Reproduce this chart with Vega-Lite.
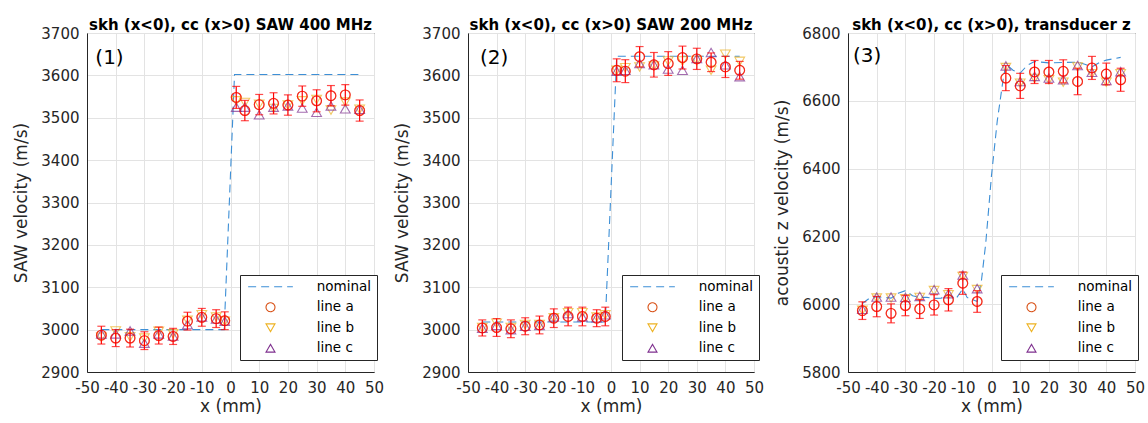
{
  "$schema": "https://vega.github.io/schema/vega-lite/v6.json",
  "padding": {"left": 12, "top": 17, "right": 0, "bottom": 0},
  "spacing": 94,
  "bounds": "flush",
  "resolve": {"scale": {"color": "independent", "shape": "independent"}, "legend": {"color": "independent", "shape": "independent"}},
  "datasets": {
    "nom1": [
      {"x": -45, "v": 3000, "series": "nominal"}, {"x": -2.2, "v": 3000, "series": "nominal"},
      {"x": 1.4, "v": 3602, "series": "nominal"}, {"x": 45, "v": 3602, "series": "nominal"}
    ],
    "nom2": [
      {"x": -45, "v": 3018, "series": "nominal"}, {"x": -2, "v": 3018, "series": "nominal"},
      {"x": 2, "v": 3645, "series": "nominal"}, {"x": 45, "v": 3645, "series": "nominal"}
    ],
    "nom3": [
      {"x": -45, "v": 6002, "series": "nominal"}, {"x": -42.5, "v": 6018, "series": "nominal"},
      {"x": -40, "v": 6022, "series": "nominal"}, {"x": -37.5, "v": 6020, "series": "nominal"},
      {"x": -35, "v": 6018, "series": "nominal"}, {"x": -32.5, "v": 6032, "series": "nominal"},
      {"x": -30, "v": 6040, "series": "nominal"}, {"x": -27.5, "v": 6025, "series": "nominal"},
      {"x": -25, "v": 6020, "series": "nominal"}, {"x": -22.5, "v": 6020, "series": "nominal"},
      {"x": -20, "v": 6017, "series": "nominal"}, {"x": -17.5, "v": 6018, "series": "nominal"},
      {"x": -15, "v": 6030, "series": "nominal"}, {"x": -12.5, "v": 6015, "series": "nominal"},
      {"x": -10, "v": 6045, "series": "nominal"}, {"x": -8.5, "v": 6020, "series": "nominal"},
      {"x": -5, "v": 6008, "series": "nominal"}, {"x": -3.5, "v": 6070, "series": "nominal"},
      {"x": -2, "v": 6180, "series": "nominal"}, {"x": 0, "v": 6380, "series": "nominal"},
      {"x": 2, "v": 6540, "series": "nominal"}, {"x": 4, "v": 6660, "series": "nominal"},
      {"x": 5, "v": 6708, "series": "nominal"}, {"x": 7.5, "v": 6690, "series": "nominal"},
      {"x": 10, "v": 6682, "series": "nominal"}, {"x": 12.5, "v": 6705, "series": "nominal"},
      {"x": 15, "v": 6716, "series": "nominal"}, {"x": 20, "v": 6712, "series": "nominal"},
      {"x": 25, "v": 6713, "series": "nominal"}, {"x": 30, "v": 6714, "series": "nominal"},
      {"x": 32.5, "v": 6708, "series": "nominal"}, {"x": 35, "v": 6700, "series": "nominal"},
      {"x": 37.5, "v": 6712, "series": "nominal"}, {"x": 40, "v": 6720, "series": "nominal"},
      {"x": 45, "v": 6728, "series": "nominal"}
    ],
    "p1": [
      {"x": -45, "series": "line a", "v": 2987, "lo": 2966, "hi": 3008},
      {"x": -40, "series": "line a", "v": 2980, "lo": 2960, "hi": 3000},
      {"x": -35, "series": "line a", "v": 2980, "lo": 2959, "hi": 3001},
      {"x": -30, "series": "line a", "v": 2974, "lo": 2953, "hi": 2995},
      {"x": -25, "series": "line a", "v": 2986, "lo": 2966, "hi": 3006},
      {"x": -20, "series": "line a", "v": 2984, "lo": 2965, "hi": 3003},
      {"x": -15, "series": "line a", "v": 3020, "lo": 2999, "hi": 3041},
      {"x": -10, "series": "line a", "v": 3029, "lo": 3008, "hi": 3050},
      {"x": -5, "series": "line a", "v": 3026, "lo": 3005, "hi": 3047},
      {"x": -2, "series": "line a", "v": 3021, "lo": 3000, "hi": 3042},
      {"x": 2, "series": "line a", "v": 3548, "lo": 3522, "hi": 3574},
      {"x": 5, "series": "line a", "v": 3517, "lo": 3493, "hi": 3541},
      {"x": 10, "series": "line a", "v": 3531, "lo": 3507, "hi": 3555},
      {"x": 15, "series": "line a", "v": 3534, "lo": 3509, "hi": 3559},
      {"x": 20, "series": "line a", "v": 3530, "lo": 3506, "hi": 3554},
      {"x": 25, "series": "line a", "v": 3551, "lo": 3527, "hi": 3575},
      {"x": 30, "series": "line a", "v": 3540, "lo": 3514, "hi": 3566},
      {"x": 35, "series": "line a", "v": 3552, "lo": 3528, "hi": 3576},
      {"x": 40, "series": "line a", "v": 3554, "lo": 3530, "hi": 3578},
      {"x": 45, "series": "line a", "v": 3517, "lo": 3492, "hi": 3542},
      {"x": -45, "series": "line b", "v": 2982}, {"x": -40, "series": "line b", "v": 2997},
      {"x": -35, "series": "line b", "v": 2983}, {"x": -30, "series": "line b", "v": 2980},
      {"x": -25, "series": "line b", "v": 2996}, {"x": -20, "series": "line b", "v": 2990},
      {"x": -15, "series": "line b", "v": 3022}, {"x": -10, "series": "line b", "v": 3035},
      {"x": -5, "series": "line b", "v": 3030}, {"x": -2, "series": "line b", "v": 3020},
      {"x": 2, "series": "line b", "v": 3540}, {"x": 5, "series": "line b", "v": 3536},
      {"x": 10, "series": "line b", "v": 3532}, {"x": 15, "series": "line b", "v": 3522},
      {"x": 20, "series": "line b", "v": 3530}, {"x": 25, "series": "line b", "v": 3540},
      {"x": 30, "series": "line b", "v": 3543}, {"x": 35, "series": "line b", "v": 3518},
      {"x": 40, "series": "line b", "v": 3537}, {"x": 45, "series": "line b", "v": 3520},
      {"x": -45, "series": "line c", "v": 2990}, {"x": -40, "series": "line c", "v": 2990},
      {"x": -35, "series": "line c", "v": 2997}, {"x": -30, "series": "line c", "v": 2968},
      {"x": -25, "series": "line c", "v": 2990}, {"x": -20, "series": "line c", "v": 2985},
      {"x": -15, "series": "line c", "v": 3012}, {"x": -10, "series": "line c", "v": 3030},
      {"x": -5, "series": "line c", "v": 3025}, {"x": -2, "series": "line c", "v": 3020},
      {"x": 2, "series": "line c", "v": 3525}, {"x": 5, "series": "line c", "v": 3525},
      {"x": 10, "series": "line c", "v": 3507}, {"x": 15, "series": "line c", "v": 3525},
      {"x": 20, "series": "line c", "v": 3528}, {"x": 25, "series": "line c", "v": 3523},
      {"x": 30, "series": "line c", "v": 3513}, {"x": 35, "series": "line c", "v": 3528},
      {"x": 40, "series": "line c", "v": 3521}, {"x": 45, "series": "line c", "v": 3520}
    ],
    "p2": [
      {"x": -45, "series": "line a", "v": 3004, "lo": 2985, "hi": 3023},
      {"x": -40, "series": "line a", "v": 3005, "lo": 2984, "hi": 3026},
      {"x": -35, "series": "line a", "v": 3002, "lo": 2981, "hi": 3023},
      {"x": -30, "series": "line a", "v": 3008, "lo": 2988, "hi": 3028},
      {"x": -25, "series": "line a", "v": 3011, "lo": 2990, "hi": 3032},
      {"x": -20, "series": "line a", "v": 3027, "lo": 3005, "hi": 3049},
      {"x": -15, "series": "line a", "v": 3031, "lo": 3009, "hi": 3053},
      {"x": -10, "series": "line a", "v": 3031, "lo": 3009, "hi": 3053},
      {"x": -5, "series": "line a", "v": 3027, "lo": 3007, "hi": 3047},
      {"x": -2, "series": "line a", "v": 3031, "lo": 3009, "hi": 3053},
      {"x": 2, "series": "line a", "v": 3612, "lo": 3585, "hi": 3639},
      {"x": 5, "series": "line a", "v": 3610, "lo": 3583, "hi": 3637},
      {"x": 10, "series": "line a", "v": 3644, "lo": 3620, "hi": 3668},
      {"x": 15, "series": "line a", "v": 3625, "lo": 3596, "hi": 3654},
      {"x": 20, "series": "line a", "v": 3628, "lo": 3600, "hi": 3656},
      {"x": 25, "series": "line a", "v": 3642, "lo": 3615, "hi": 3669},
      {"x": 30, "series": "line a", "v": 3639, "lo": 3614, "hi": 3664},
      {"x": 35, "series": "line a", "v": 3631, "lo": 3609, "hi": 3653},
      {"x": 40, "series": "line a", "v": 3620, "lo": 3595, "hi": 3645},
      {"x": 45, "series": "line a", "v": 3612, "lo": 3591, "hi": 3633},
      {"x": -45, "series": "line b", "v": 3005}, {"x": -40, "series": "line b", "v": 3015},
      {"x": -35, "series": "line b", "v": 3005}, {"x": -30, "series": "line b", "v": 3012},
      {"x": -25, "series": "line b", "v": 3012}, {"x": -20, "series": "line b", "v": 3028},
      {"x": -15, "series": "line b", "v": 3040}, {"x": -10, "series": "line b", "v": 3040},
      {"x": -5, "series": "line b", "v": 3030}, {"x": -2, "series": "line b", "v": 3035},
      {"x": 2, "series": "line b", "v": 3612}, {"x": 5, "series": "line b", "v": 3618},
      {"x": 10, "series": "line b", "v": 3620}, {"x": 15, "series": "line b", "v": 3622},
      {"x": 20, "series": "line b", "v": 3634}, {"x": 25, "series": "line b", "v": 3634},
      {"x": 30, "series": "line b", "v": 3635}, {"x": 35, "series": "line b", "v": 3612},
      {"x": 40, "series": "line b", "v": 3650}, {"x": 45, "series": "line b", "v": 3633},
      {"x": -45, "series": "line c", "v": 3003}, {"x": -40, "series": "line c", "v": 3010},
      {"x": -35, "series": "line c", "v": 3000}, {"x": -30, "series": "line c", "v": 3008},
      {"x": -25, "series": "line c", "v": 3010}, {"x": -20, "series": "line c", "v": 3030},
      {"x": -15, "series": "line c", "v": 3038}, {"x": -10, "series": "line c", "v": 3030},
      {"x": -5, "series": "line c", "v": 3028}, {"x": -2, "series": "line c", "v": 3035},
      {"x": 2, "series": "line c", "v": 3610}, {"x": 5, "series": "line c", "v": 3612},
      {"x": 10, "series": "line c", "v": 3628}, {"x": 15, "series": "line c", "v": 3625},
      {"x": 20, "series": "line c", "v": 3615}, {"x": 25, "series": "line c", "v": 3612},
      {"x": 30, "series": "line c", "v": 3640}, {"x": 35, "series": "line c", "v": 3654},
      {"x": 40, "series": "line c", "v": 3625}, {"x": 45, "series": "line c", "v": 3597}
    ],
    "p3": [
      {"x": -45, "series": "line a", "v": 5981, "lo": 5955, "hi": 6007},
      {"x": -40, "series": "line a", "v": 5993, "lo": 5963, "hi": 6023},
      {"x": -35, "series": "line a", "v": 5973, "lo": 5945, "hi": 6001},
      {"x": -30, "series": "line a", "v": 5996, "lo": 5966, "hi": 6026},
      {"x": -25, "series": "line a", "v": 5986, "lo": 5958, "hi": 6014},
      {"x": -20, "series": "line a", "v": 5998, "lo": 5968, "hi": 6028},
      {"x": -15, "series": "line a", "v": 6013, "lo": 5980, "hi": 6046},
      {"x": -10, "series": "line a", "v": 6062, "lo": 6029, "hi": 6095},
      {"x": -5, "series": "line a", "v": 6008, "lo": 5976, "hi": 6040},
      {"x": 5, "series": "line a", "v": 6667, "lo": 6630, "hi": 6704},
      {"x": 10, "series": "line a", "v": 6644, "lo": 6607, "hi": 6681},
      {"x": 15, "series": "line a", "v": 6685, "lo": 6651, "hi": 6719},
      {"x": 20, "series": "line a", "v": 6685, "lo": 6651, "hi": 6719},
      {"x": 25, "series": "line a", "v": 6687, "lo": 6653, "hi": 6721},
      {"x": 30, "series": "line a", "v": 6657, "lo": 6618, "hi": 6696},
      {"x": 35, "series": "line a", "v": 6697, "lo": 6663, "hi": 6731},
      {"x": 40, "series": "line a", "v": 6679, "lo": 6647, "hi": 6711},
      {"x": 45, "series": "line a", "v": 6662, "lo": 6628, "hi": 6696},
      {"x": -45, "series": "line b", "v": 5982}, {"x": -40, "series": "line b", "v": 6018},
      {"x": -35, "series": "line b", "v": 6018}, {"x": -30, "series": "line b", "v": 6016},
      {"x": -25, "series": "line b", "v": 6020}, {"x": -20, "series": "line b", "v": 6040},
      {"x": -15, "series": "line b", "v": 6028}, {"x": -10, "series": "line b", "v": 6082},
      {"x": -5, "series": "line b", "v": 6043},
      {"x": 5, "series": "line b", "v": 6698}, {"x": 10, "series": "line b", "v": 6652},
      {"x": 15, "series": "line b", "v": 6666}, {"x": 20, "series": "line b", "v": 6662},
      {"x": 25, "series": "line b", "v": 6655}, {"x": 30, "series": "line b", "v": 6700},
      {"x": 35, "series": "line b", "v": 6680}, {"x": 40, "series": "line b", "v": 6655},
      {"x": 45, "series": "line b", "v": 6680},
      {"x": -45, "series": "line c", "v": 5985}, {"x": -40, "series": "line c", "v": 6021},
      {"x": -35, "series": "line c", "v": 6021}, {"x": -30, "series": "line c", "v": 6020},
      {"x": -25, "series": "line c", "v": 6023}, {"x": -20, "series": "line c", "v": 6043},
      {"x": -15, "series": "line c", "v": 6031}, {"x": -10, "series": "line c", "v": 6086},
      {"x": -5, "series": "line c", "v": 6046},
      {"x": 5, "series": "line c", "v": 6703}, {"x": 10, "series": "line c", "v": 6657},
      {"x": 15, "series": "line c", "v": 6672}, {"x": 20, "series": "line c", "v": 6667},
      {"x": 25, "series": "line c", "v": 6662}, {"x": 30, "series": "line c", "v": 6704},
      {"x": 35, "series": "line c", "v": 6684}, {"x": 40, "series": "line c", "v": 6660},
      {"x": 45, "series": "line c", "v": 6686}
    ],
    "lab1": [{"label": "(1)"}],
    "lab2": [{"label": "(2)"}],
    "lab3": [{"label": "(3)"}]
  },
  "hconcat": [
    {
      "width": 287, "height": 339,
      "title": "skh (x<0), cc (x>0) SAW 400 MHz",
      "layer": [
        {
          "encoding": {
            "x": {"field": "x", "type": "quantitative", "scale": {"domain": [-50, 50], "nice": false},
                  "axis": {"values": [-50, -40, -30, -20, -10, 0, 10, 20, 30, 40, 50], "title": "x (mm)", "labelExpr": "'' + datum.value"}},
            "y": {"field": "v", "type": "quantitative", "scale": {"domain": [2900, 3700], "nice": false},
                  "axis": {"values": [2900, 3000, 3100, 3200, 3300, 3400, 3500, 3600, 3700], "title": "SAW velocity (m/s)", "format": "d"}}
          },
          "layer": [
            {"data": {"name": "nom1"}, "mark": {"type": "line", "strokeDash": [8, 5], "strokeWidth": 1.1},
             "encoding": {"color": {"field": "series", "type": "nominal",
                "scale": {"domain": ["nominal", "line a", "line b", "line c"], "range": ["#3D8FD6", "#D95319", "#EDB120", "#7E2F8E"]},
                "legend": {"orient": "none", "legendX": 153, "legendY": 242, "title": null, "direction": "vertical", "padding": 5, "fillColor": "white", "strokeColor": "#262626", "symbolSize": 75, "rowPadding": 5.5, "labelFontSize": 13.5, "symbolOffset": 18.75, "labelOffset": 39.5, "symbolStrokeWidth": 1.1,
                  "labelExpr": "datum.label + '\u00a0\u00a0'",
                  "encode": {"symbols": {"update": {"size": {"signal": "datum.value === 'nominal' ? 2000 : 80"}, "strokeDash": {"signal": "datum.value === 'nominal' ? [8, 5] : [1, 0]"}, "fill": {"value": "transparent"}}}}}}}},
            {"data": {"name": "p1"}, "mark": {"type": "point", "filled": false, "size": 95, "strokeWidth": 1.1},
             "encoding": {"color": {"field": "series", "type": "nominal",
                "scale": {"domain": ["nominal", "line a", "line b", "line c"], "range": ["#3D8FD6", "#D95319", "#EDB120", "#7E2F8E"]}, "legend": null},
               "shape": {"field": "series", "type": "nominal",
                "scale": {"domain": ["nominal", "line a", "line b", "line c"], "range": ["stroke", "circle", "triangle-down", "triangle-up"]}, "legend": null}}},
            {"data": {"name": "p1"}, "transform": [{"filter": "datum.series === 'line a'"}], "mark": {"type": "rule", "color": "#FF0000", "strokeWidth": 1.2},
             "encoding": {"y": {"field": "lo", "type": "quantitative"}, "y2": {"field": "hi"}}},
            {"data": {"name": "p1"}, "transform": [{"filter": "datum.series === 'line a'"}], "mark": {"type": "tick", "orient": "horizontal", "color": "#FF0000", "size": 8, "thickness": 1.2},
             "encoding": {"y": {"field": "lo", "type": "quantitative"}}},
            {"data": {"name": "p1"}, "transform": [{"filter": "datum.series === 'line a'"}], "mark": {"type": "tick", "orient": "horizontal", "color": "#FF0000", "size": 8, "thickness": 1.2},
             "encoding": {"y": {"field": "hi", "type": "quantitative"}}},
            {"data": {"name": "p1"}, "transform": [{"filter": "datum.series === 'line a'"}], "mark": {"type": "point", "shape": "circle", "filled": false, "color": "#FF0000", "size": 95, "strokeWidth": 1.2}}
          ]
        },
        {"data": {"name": "lab1"}, "mark": {"type": "text", "align": "left", "baseline": "top", "fontSize": 20, "color": "#000000"},
         "encoding": {"text": {"field": "label"},
           "x": {"datum": -47.1, "type": "quantitative", "scale": {"domain": [-50, 50], "nice": false},
                 "axis": {"values": [-50, -40, -30, -20, -10, 0, 10, 20, 30, 40, 50], "title": "x (mm)", "labelExpr": "'' + datum.value"}},
           "y": {"datum": 3665, "type": "quantitative", "scale": {"domain": [2900, 3700], "nice": false},
                 "axis": {"values": [2900, 3000, 3100, 3200, 3300, 3400, 3500, 3600, 3700], "title": "SAW velocity (m/s)", "format": "d"}}}}
      ]
    },
    {
      "width": 286, "height": 339,
      "title": "skh (x<0), cc (x>0) SAW 200 MHz",
      "layer": [
        {
          "encoding": {
            "x": {"field": "x", "type": "quantitative", "scale": {"domain": [-50, 50], "nice": false},
                  "axis": {"values": [-50, -40, -30, -20, -10, 0, 10, 20, 30, 40, 50], "title": "x (mm)", "labelExpr": "'' + datum.value"}},
            "y": {"field": "v", "type": "quantitative", "scale": {"domain": [2900, 3700], "nice": false},
                  "axis": {"values": [2900, 3000, 3100, 3200, 3300, 3400, 3500, 3600, 3700], "title": "SAW velocity (m/s)", "format": "d"}}
          },
          "layer": [
            {"data": {"name": "nom2"}, "mark": {"type": "line", "strokeDash": [8, 5], "strokeWidth": 1.1},
             "encoding": {"color": {"field": "series", "type": "nominal",
                "scale": {"domain": ["nominal", "line a", "line b", "line c"], "range": ["#3D8FD6", "#D95319", "#EDB120", "#7E2F8E"]},
                "legend": {"orient": "none", "legendX": 154, "legendY": 242, "title": null, "direction": "vertical", "padding": 5, "fillColor": "white", "strokeColor": "#262626", "symbolSize": 75, "rowPadding": 5.5, "labelFontSize": 13.5, "symbolOffset": 18.75, "labelOffset": 39.5, "symbolStrokeWidth": 1.1,
                  "encode": {"symbols": {"update": {"size": {"signal": "datum.value === 'nominal' ? 2000 : 80"}, "strokeDash": {"signal": "datum.value === 'nominal' ? [8, 5] : [1, 0]"}, "fill": {"value": "transparent"}}}}}}}},
            {"data": {"name": "p2"}, "mark": {"type": "point", "filled": false, "size": 95, "strokeWidth": 1.1},
             "encoding": {"color": {"field": "series", "type": "nominal",
                "scale": {"domain": ["nominal", "line a", "line b", "line c"], "range": ["#3D8FD6", "#D95319", "#EDB120", "#7E2F8E"]}, "legend": null},
               "shape": {"field": "series", "type": "nominal",
                "scale": {"domain": ["nominal", "line a", "line b", "line c"], "range": ["stroke", "circle", "triangle-down", "triangle-up"]}, "legend": null}}},
            {"data": {"name": "p2"}, "transform": [{"filter": "datum.series === 'line a'"}], "mark": {"type": "rule", "color": "#FF0000", "strokeWidth": 1.2},
             "encoding": {"y": {"field": "lo", "type": "quantitative"}, "y2": {"field": "hi"}}},
            {"data": {"name": "p2"}, "transform": [{"filter": "datum.series === 'line a'"}], "mark": {"type": "tick", "orient": "horizontal", "color": "#FF0000", "size": 8, "thickness": 1.2},
             "encoding": {"y": {"field": "lo", "type": "quantitative"}}},
            {"data": {"name": "p2"}, "transform": [{"filter": "datum.series === 'line a'"}], "mark": {"type": "tick", "orient": "horizontal", "color": "#FF0000", "size": 8, "thickness": 1.2},
             "encoding": {"y": {"field": "hi", "type": "quantitative"}}},
            {"data": {"name": "p2"}, "transform": [{"filter": "datum.series === 'line a'"}], "mark": {"type": "point", "shape": "circle", "filled": false, "color": "#FF0000", "size": 95, "strokeWidth": 1.2}}
          ]
        },
        {"data": {"name": "lab2"}, "mark": {"type": "text", "align": "left", "baseline": "top", "fontSize": 20, "color": "#000000"},
         "encoding": {"text": {"field": "label"},
           "x": {"datum": -45.8, "type": "quantitative", "scale": {"domain": [-50, 50], "nice": false},
                 "axis": {"values": [-50, -40, -30, -20, -10, 0, 10, 20, 30, 40, 50], "title": "x (mm)", "labelExpr": "'' + datum.value"}},
           "y": {"datum": 3665, "type": "quantitative", "scale": {"domain": [2900, 3700], "nice": false},
                 "axis": {"values": [2900, 3000, 3100, 3200, 3300, 3400, 3500, 3600, 3700], "title": "SAW velocity (m/s)", "format": "d"}}}}
      ]
    },
    {
      "width": 287, "height": 339,
      "title": "skh (x<0), cc (x>0), transducer z",
      "layer": [
        {
          "encoding": {
            "x": {"field": "x", "type": "quantitative", "scale": {"domain": [-50, 50], "nice": false},
                  "axis": {"values": [-50, -40, -30, -20, -10, 0, 10, 20, 30, 40, 50], "title": "x (mm)", "labelExpr": "'' + datum.value"}},
            "y": {"field": "v", "type": "quantitative", "scale": {"domain": [5800, 6800], "nice": false},
                  "axis": {"values": [5800, 6000, 6200, 6400, 6600, 6800], "title": "acoustic z velocity (m/s)", "format": "d"}}
          },
          "layer": [
            {"data": {"name": "nom3"}, "mark": {"type": "line", "strokeDash": [8, 5], "strokeWidth": 1.1},
             "encoding": {"color": {"field": "series", "type": "nominal",
                "scale": {"domain": ["nominal", "line a", "line b", "line c"], "range": ["#3D8FD6", "#D95319", "#EDB120", "#7E2F8E"]},
                "legend": {"orient": "none", "legendX": 153, "legendY": 242, "title": null, "direction": "vertical", "padding": 5, "fillColor": "white", "strokeColor": "#262626", "symbolSize": 75, "rowPadding": 5.5, "labelFontSize": 13.5, "symbolOffset": 18.75, "labelOffset": 39.5, "symbolStrokeWidth": 1.1,
                  "labelExpr": "datum.label + '\u00a0\u00a0'",
                  "encode": {"symbols": {"update": {"size": {"signal": "datum.value === 'nominal' ? 2000 : 80"}, "strokeDash": {"signal": "datum.value === 'nominal' ? [8, 5] : [1, 0]"}, "fill": {"value": "transparent"}}}}}}}},
            {"data": {"name": "p3"}, "mark": {"type": "point", "filled": false, "size": 95, "strokeWidth": 1.1},
             "encoding": {"color": {"field": "series", "type": "nominal",
                "scale": {"domain": ["nominal", "line a", "line b", "line c"], "range": ["#3D8FD6", "#D95319", "#EDB120", "#7E2F8E"]}, "legend": null},
               "shape": {"field": "series", "type": "nominal",
                "scale": {"domain": ["nominal", "line a", "line b", "line c"], "range": ["stroke", "circle", "triangle-down", "triangle-up"]}, "legend": null}}},
            {"data": {"name": "p3"}, "transform": [{"filter": "datum.series === 'line a'"}], "mark": {"type": "rule", "color": "#FF0000", "strokeWidth": 1.2},
             "encoding": {"y": {"field": "lo", "type": "quantitative"}, "y2": {"field": "hi"}}},
            {"data": {"name": "p3"}, "transform": [{"filter": "datum.series === 'line a'"}], "mark": {"type": "tick", "orient": "horizontal", "color": "#FF0000", "size": 8, "thickness": 1.2},
             "encoding": {"y": {"field": "lo", "type": "quantitative"}}},
            {"data": {"name": "p3"}, "transform": [{"filter": "datum.series === 'line a'"}], "mark": {"type": "tick", "orient": "horizontal", "color": "#FF0000", "size": 8, "thickness": 1.2},
             "encoding": {"y": {"field": "hi", "type": "quantitative"}}},
            {"data": {"name": "p3"}, "transform": [{"filter": "datum.series === 'line a'"}], "mark": {"type": "point", "shape": "circle", "filled": false, "color": "#FF0000", "size": 95, "strokeWidth": 1.2}}
          ]
        },
        {"data": {"name": "lab3"}, "mark": {"type": "text", "align": "left", "baseline": "top", "fontSize": 20, "color": "#000000"},
         "encoding": {"text": {"field": "label"},
           "x": {"datum": -48.3, "type": "quantitative", "scale": {"domain": [-50, 50], "nice": false},
                 "axis": {"values": [-50, -40, -30, -20, -10, 0, 10, 20, 30, 40, 50], "title": "x (mm)", "labelExpr": "'' + datum.value"}},
           "y": {"datum": 6762, "type": "quantitative", "scale": {"domain": [5800, 6800], "nice": false},
                 "axis": {"values": [5800, 6000, 6200, 6400, 6600, 6800], "title": "acoustic z velocity (m/s)", "format": "d"}}}}
      ]
    }
  ],
  "config": {
    "font": "DejaVu Sans",
    "background": "white",
    "view": {"stroke": "#262626", "strokeWidth": 1},
    "axis": {"domainColor": "#262626", "labelColor": "#262626", "titleColor": "#262626", "gridColor": "#E3E3E3", "gridWidth": 1, "ticks": false,
             "labelFontSize": 15, "titleFontSize": 16, "titleFontWeight": "normal", "labelFont": "DejaVu Sans", "titleFont": "DejaVu Sans",
             "labelOverlap": false, "labelFlush": false},
    "axisX": {"labelPadding": 8, "titlePadding": 3, "titleFontSize": 17},
    "axisY": {"labelPadding": 8, "titlePadding": 10, "titleFontSize": 17},
    "title": {"fontSize": 15, "fontWeight": "bold", "font": "DejaVu Sans", "offset": -7, "color": "#000000"},
    "legend": {"labelFont": "DejaVu Sans", "labelColor": "#000000"}
  }
}
